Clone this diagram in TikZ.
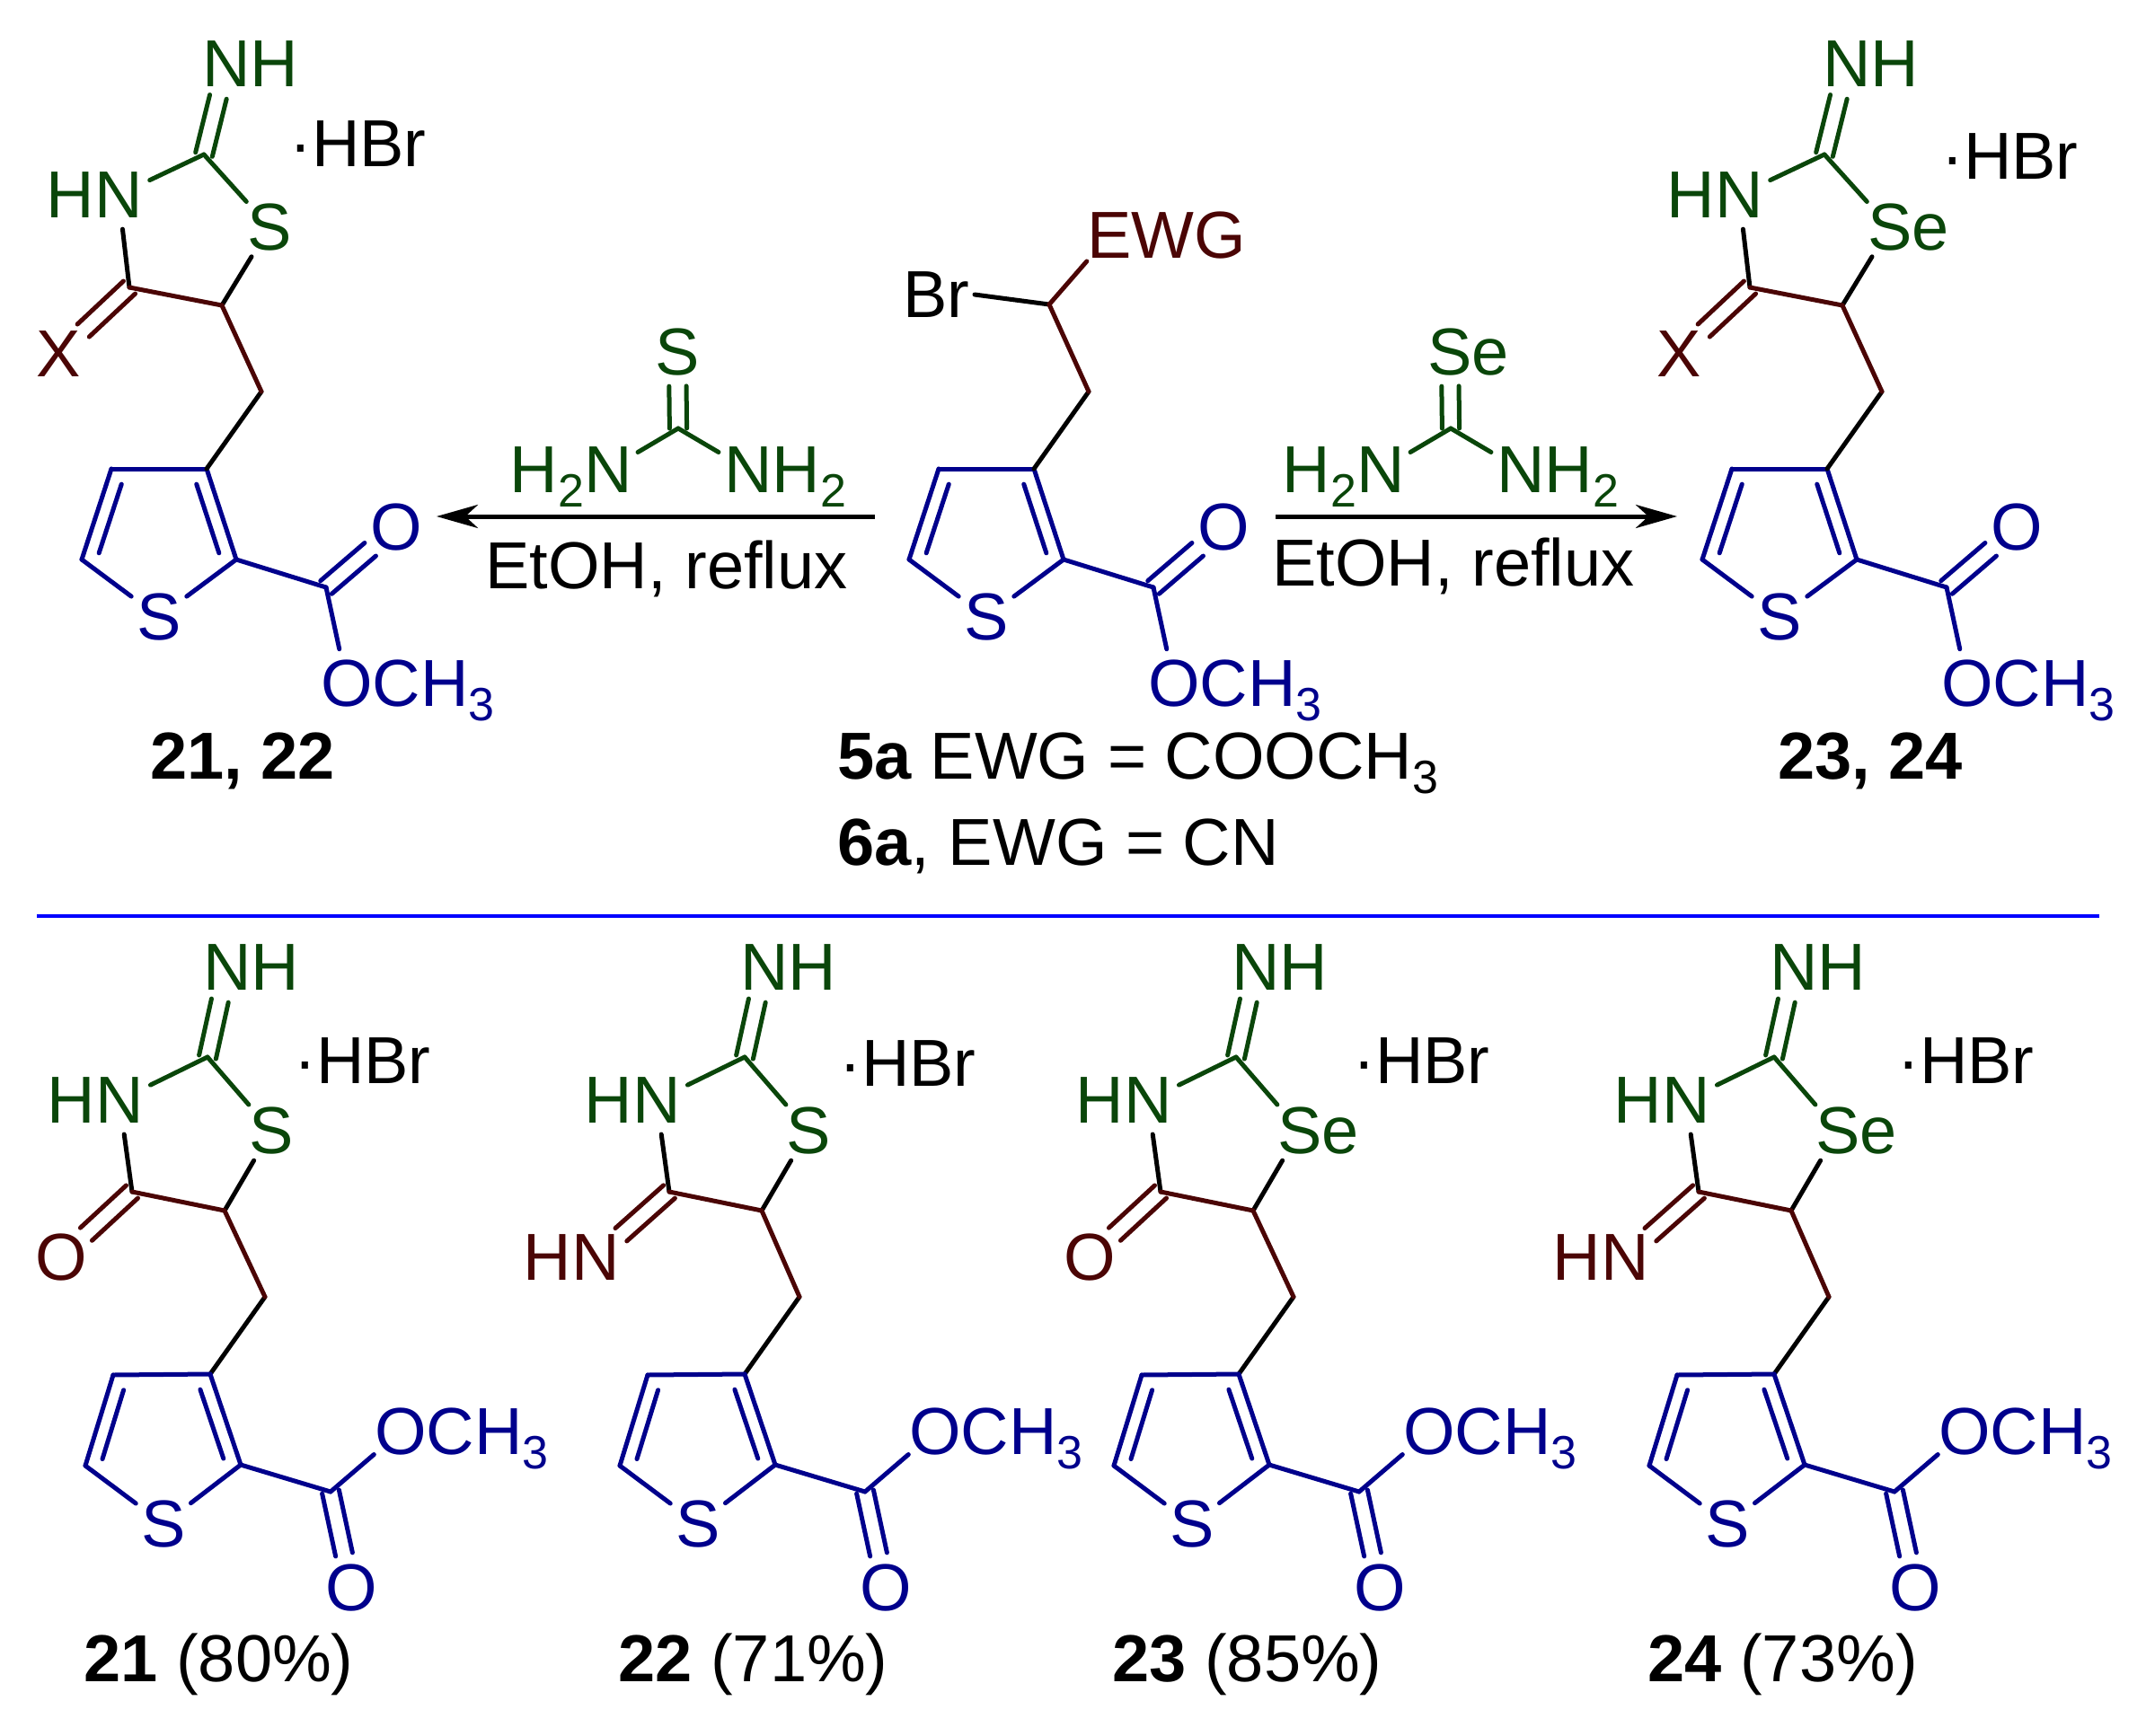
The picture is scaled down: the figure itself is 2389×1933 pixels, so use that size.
\documentclass[tikz,border=0pt]{standalone}
\usepackage{fontspec}
\setmainfont{Liberation Sans}
\usetikzlibrary{calc,arrows.meta}
\definecolor{molgreen}{RGB}{10,70,10}
\definecolor{molbrown}{RGB}{75,5,5}
\definecolor{molblue}{RGB}{0,0,140}
\newcommand{\atomfont}{\fontsize{37}{42}\selectfont}
\newcommand{\labelfont}{\fontsize{37}{42}\selectfont}
\newcommand{\subs}[1]{\raisebox{-8pt}[0pt][0pt]{\fontsize{26}{26}\selectfont #1}}
\tikzstyle{atom}=[circle,minimum size=38pt,inner sep=0pt,font=\atomfont]
\tikzstyle{txt}=[anchor=base west,inner sep=0pt,font=\labelfont]
\tikzstyle{bond}=[line width=2.5pt,line cap=round]
\tikzstyle{rxn}=[line width=2.5pt,-{Stealth[length=23pt,width=13pt,inset=7pt]}]

% two parallel lines, ending on the border of the second atom
\newcommand{\dblbond}[3]{
    \draw[bond,#1,shorten >=19pt] ($(#2)!4.8pt!90:(#3)$) -- ($(#3)!4.8pt!-90:(#2)$);
    \draw[bond,#1,shorten >=19pt] ($(#2)!4.8pt!-90:(#3)$) -- ($(#3)!4.8pt!90:(#2)$);
}
% short inner line of a ring double bond
\newcommand{\inbond}[2]{
    \draw[bond,molblue] ($(#1)!.12!(#2)!8pt!-90:(#2)$) -- ($(#1)!.88!(#2)!8pt!-90:(#2)$);
}

% thiophene with ester, drawn in the upper row
\newcommand{\topring}[2]{
\begin{scope}[shift={(#2,0)}]
    \coordinate (#1c3) at (230,522);
    \coordinate (#1c4p) at (124,522);
    \coordinate (#1c5p) at (91,623);
    \coordinate (#1c2p) at (263,623);
    \coordinate (#1ec) at (363,654);
    \coordinate (#1ch2) at (291,436);
    \node[atom,text=molblue] (#1s1) at (177,687) {S};
    \node[atom,text=molblue] (#1o) at (441,587) {O};
    \node[atom,text=molblue] (#1och3) at (386,761) {O\rlap{CH\subs{3}}};
    \foreach \from/\to in {#1s1/#1c2p,#1c2p/#1c3,#1c3/#1c4p,#1c4p/#1c5p,#1c5p/#1s1,#1c2p/#1ec,#1ec/#1och3}
    \draw[bond,molblue] (\from) -- (\to);
    \inbond{#1c3}{#1c2p}
    \inbond{#1c5p}{#1c4p}
    \dblbond{molblue}{#1ec}{#1o}
    \draw[bond] (#1c3) -- (#1ch2);
\end{scope}
}

% imino ring on top of the upper row molecules
\newcommand{\tophead}[5]{
\begin{scope}[shift={(#2,0)}]
    \coordinate (#1c2) at (227,172);
    \coordinate (#1c4) at (144,320);
    \coordinate (#1c5) at (247,340);
    \node[atom,text=molgreen] (#1nh) at (252,71) {N\rlap{H}};
    \node[atom,text=molgreen] (#1hn) at (132,217) {\llap{H}N};
    \node[atom,text=molgreen] (#1het) at (300,253) {#3};
    \node[atom,text=molbrown] (#1x) at (65,394) {X};
    \node[txt,font=\atomfont] (#1hbr) at (#4,#5) {·HBr};
    \foreach \from/\to in {#1c2/#1hn,#1c2/#1het}
    \draw[bond,molgreen] (\from) -- (\to);
    \foreach \from/\to in {#1hn/#1c4,#1het/#1c5}
    \draw[bond] (\from) -- (\to);
    \foreach \from/\to in {#1c4/#1c5,#1c5/#1ch2}
    \draw[bond,molbrown] (\from) -- (\to);
    \dblbond{molgreen}{#1c2}{#1nh}
    \dblbond{molbrown}{#1c4}{#1x}
\end{scope}
}

% thiourea over the reaction arrow
\newcommand{\reagent}[3]{
\begin{scope}[shift={(#2,0)}]
    \coordinate (#1c) at (755,477);
    \node[atom,text=molgreen] (#1het) at (754,392) {#3};
    \node[atom,text=molgreen] (#1nl) at (677,523) {\llap{H\subs{2}}N};
    \node[atom,text=molgreen] (#1nr) at (833,523) {N\rlap{H\subs{2}}};
    \foreach \from/\to in {#1c/#1nl,#1c/#1nr}
    \draw[bond,molgreen] (\from) -- (\to);
    \dblbond{molgreen}{#1c}{#1het}
\end{scope}
}

% one complete molecule of the lower row
\newcommand{\botmol}[9]{
\begin{scope}[shift={(#2,0)}]
    \coordinate (#1ch2) at (295,1444);
    \coordinate (#1c3) at (234,1530);
    \coordinate (#1c4p) at (126,1531);
    \coordinate (#1c5p) at (95,1632);
    \coordinate (#1c2p) at (268,1631);
    \coordinate (#1ec) at (368,1661);
    \node[atom,text=molbrown] (#1x) at (68,1400) {#3};
    \node[atom,text=molblue] (#1s1) at (182,1697) {S};
    \node[atom,text=molblue] (#1och3) at (446,1594) {O\rlap{CH\subs{3}}};
    \node[atom,text=molblue] (#1o) at (391,1768) {O};
    \node[txt,font=\atomfont] (#1hbr) at (#5,#6) {·HBr};
    \node[txt] (#1lab) at (93,1872) {\textbf{#7} #8};
    \begin{scope}[shift={(#9,0)}]
        \coordinate (#1c2) at (231,1177);
        \coordinate (#1c4) at (147,1327);
        \coordinate (#1c5) at (250,1348);
        \node[atom,text=molgreen] (#1nh) at (253,1077) {N\rlap{H}};
        \node[atom,text=molgreen] (#1hn) at (133,1225) {\llap{H}N};
        \node[atom,text=molgreen] (#1het) at (302,1259) {#4};
    \end{scope}
    \foreach \from/\to in {#1c2/#1hn,#1c2/#1het}
    \draw[bond,molgreen] (\from) -- (\to);
    \foreach \from/\to in {#1hn/#1c4,#1het/#1c5,#1ch2/#1c3}
    \draw[bond] (\from) -- (\to);
    \foreach \from/\to in {#1c4/#1c5,#1c5/#1ch2}
    \draw[bond,molbrown] (\from) -- (\to);
    \foreach \from/\to in {#1s1/#1c2p,#1c2p/#1c3,#1c3/#1c4p,#1c4p/#1c5p,#1c5p/#1s1,#1c2p/#1ec,#1ec/#1och3}
    \draw[bond,molblue] (\from) -- (\to);
    \inbond{#1c3}{#1c2p}
    \inbond{#1c5p}{#1c4p}
    \dblbond{molgreen}{#1c2}{#1nh}
    \dblbond{molbrown}{#1c4}{#1x}
    \dblbond{molblue}{#1ec}{#1o}
\end{scope}
}

\begin{document}
\begin{tikzpicture}[x=0.5pt,y=-0.5pt]
    \useasboundingbox (0,0) rectangle (2389,1933);

    % upper row
    \topring{L}{0}
    \tophead{L}{0}{S}{322}{185}
    \topring{R}{1804}
    \tophead{R}{1804}{S\rlap{e}}{357}{199}
    \topring{C}{921}

    \coordinate (Cch) at (1168,339);
    \node[txt,font=\atomfont] (Cbr) at (1005,353) {Br};
    \coordinate (Cbre) at (1085,328);
    \node[atom,text=molbrown] (Cewg) at (1235,262) {E\rlap{WG}};
    \draw[bond] (Cbre) -- (Cch);
    \draw[bond,molbrown] (Cewg) -- (Cch);
    \draw[bond,molbrown] (Cch) -- (Cch2);

    \reagent{A}{0}{S}
    \reagent{B}{860}{S\rlap{e}}
    \coordinate (al) at (974,575);
    \coordinate (ar) at (486,575);
    \coordinate (bl) at (1420,575);
    \coordinate (br) at (1867,575);
    \draw[rxn] (al) -- (ar);
    \draw[rxn] (bl) -- (br);
    \node[txt] (tl) at (540,655) {EtOH, reflux};
    \node[txt] (tr) at (1416,652) {EtOH, reflux};

    \node[txt] (lab1) at (167,867) {\textbf{21, 22}};
    \node[txt] (lab2) at (1979,867) {\textbf{23, 24}};
    \node[txt] (lab3) at (932,867) {\textbf{5a} EWG = COOCH\subs{3}};
    \node[txt] (lab4) at (932,963) {\textbf{6a}, EWG = CN};

    \coordinate (rl) at (41,1020);
    \coordinate (rr) at (2337,1020);
    \draw[line width=2.2pt,blue] (rl) -- (rr);

    % lower row
    \botmol{a}{0}{O}{S}{327}{1206}{21}{(80\%)}{0}
    \botmol{b}{595}{\llap{H}N}{S}{339}{1209}{22}{(71\%)}{3}
    \botmol{c}{1145}{O}{S\rlap{e}}{361}{1206}{23}{(85\%)}{0}
    \botmol{d}{1741}{\llap{H}N}{S\rlap{e}}{371}{1206}{24}{(73\%)}{3}
\end{tikzpicture}
\end{document}
